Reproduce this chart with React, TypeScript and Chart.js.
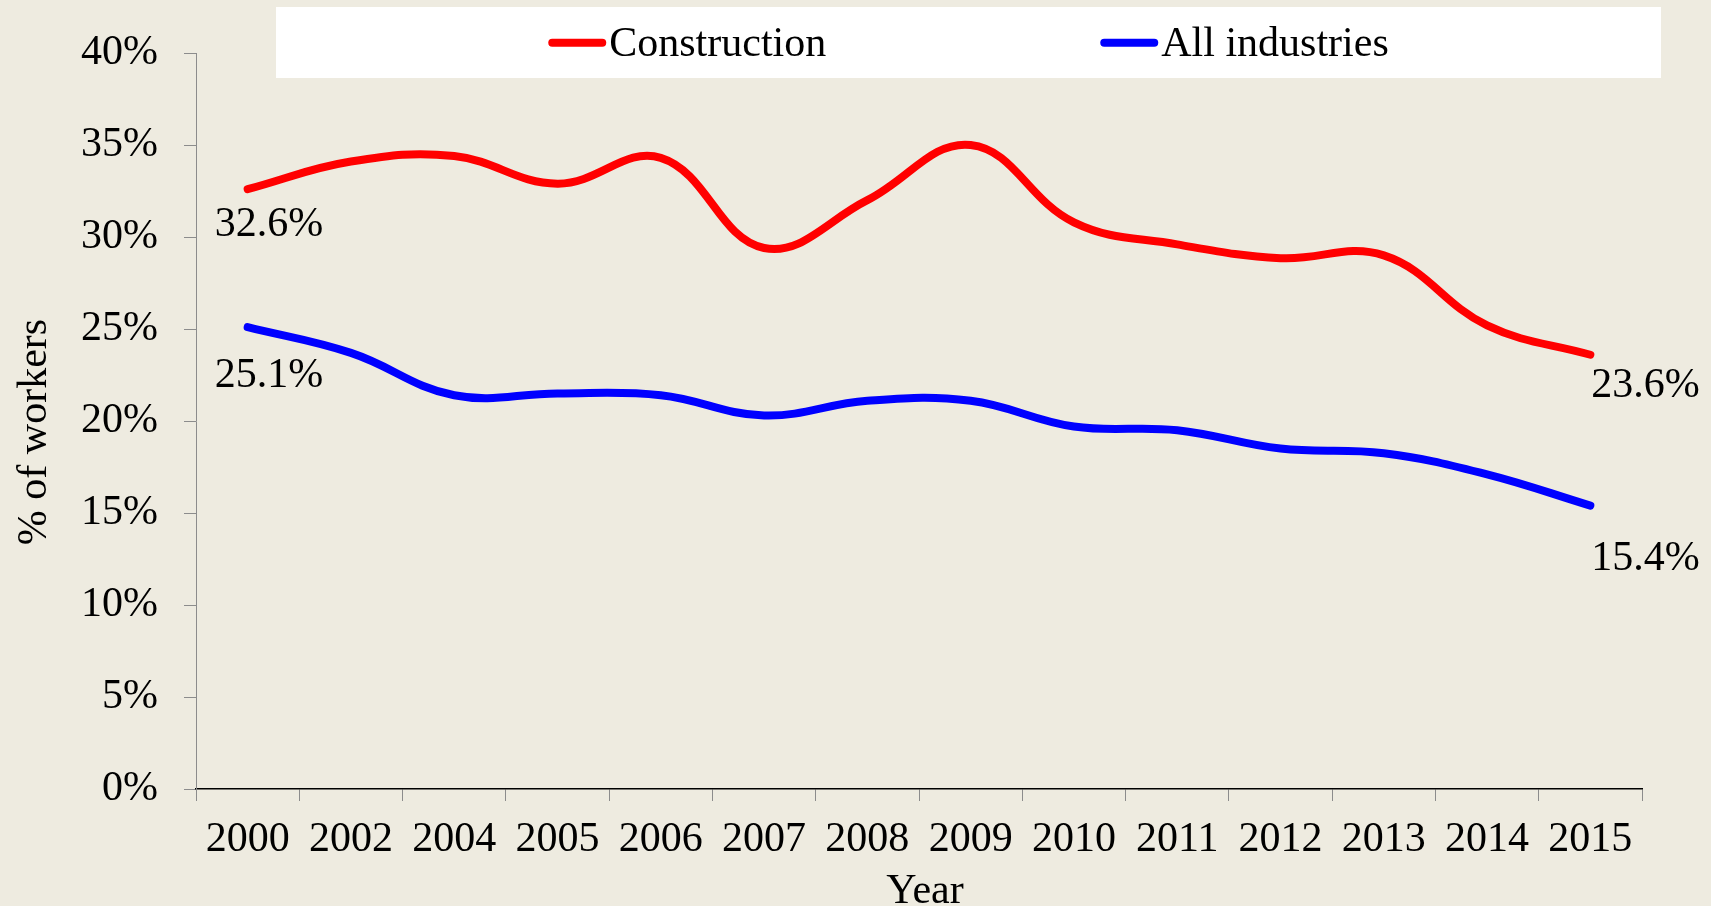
import React, { useEffect, useRef } from "react";
import { Chart, registerables } from "chart.js";

Chart.register(...registerables);

const years = ["2000", "2002", "2004", "2005", "2006", "2007", "2008", "2009", "2010", "2011", "2012", "2013", "2014", "2015"];
const construction = [32.6, 34.1, 34.4, 32.9, 34.3, 29.4, 32.0, 35.0, 30.8, 29.6, 28.85, 29.0, 25.2, 23.6];
const allIndustries = [25.1, 23.7, 21.4, 21.5, 21.4, 20.3, 21.1, 21.1, 19.7, 19.5, 18.5, 18.25, 17.1, 15.4];
const seriesNames = ["Construction", "All industries"];
const yTicks = [0, 5, 10, 15, 20, 25, 30, 35, 40];
const xTitle = "Year";
const yTitle = "% of workers";

const FONT = "'Liberation Serif', 'Times New Roman', serif";
const BG = "#EEEBE0";

const bgPlugin = {
  id: "bg",
  beforeDraw(chart: any) {
    const { ctx, width, height } = chart;
    ctx.save();
    ctx.fillStyle = BG;
    ctx.fillRect(0, 0, width, height);
    ctx.restore();
  },
};

const titlesPlugin = {
  id: "axisTitles",
  afterDraw(chart: any) {
    const { ctx, chartArea } = chart;
    ctx.save();
    ctx.font = `42px ${FONT}`;
    ctx.fillStyle = "#000000";
    ctx.textAlign = "center";
    ctx.textBaseline = "alphabetic";
    ctx.fillText(xTitle, (chartArea.left + chartArea.right) / 2 + 6, 903);
    ctx.translate(46, (chartArea.top + chartArea.bottom) / 2 + 11);
    ctx.rotate(-Math.PI / 2);
    ctx.fillText(yTitle, 0, 0);
    ctx.restore();
  },
};

const legendPlugin = {
  id: "customLegend",
  afterDraw(chart: any) {
    const { ctx } = chart;
    const box = { x: 276, y: 7, w: 1385, h: 71 };
    ctx.save();
    ctx.fillStyle = "#FFFFFF";
    ctx.fillRect(box.x, box.y, box.w, box.h);
    ctx.font = `42px ${FONT}`;
    const lineLen = 58;
    const lineGap = 3;
    const itemGap = 274;
    const items = chart.data.datasets.map((d: any) => ({
      label: d.label,
      color: d.borderColor,
      w: lineLen + lineGap + ctx.measureText(d.label).width,
    }));
    const total = items.reduce((s: number, it: any) => s + it.w, 0) + itemGap * (items.length - 1);
    let x = box.x + box.w / 2 - total / 2;
    const cy = 42.7;
    items.forEach((it: any) => {
      ctx.strokeStyle = it.color;
      ctx.lineWidth = 8;
      ctx.lineCap = "round";
      ctx.beginPath();
      ctx.moveTo(x + 4, cy);
      ctx.lineTo(x + lineLen - 4, cy);
      ctx.stroke();
      ctx.fillStyle = "#000000";
      ctx.textAlign = "left";
      ctx.textBaseline = "alphabetic";
      ctx.fillText(it.label, x + lineLen + lineGap, 56);
      x += it.w + itemGap;
    });
    ctx.restore();
  },
};

// label placement: [datasetIndex, pointIndex, dx, dyBaseline]
const labelSpots = [
  [0, 0, -33, 47],
  [1, 0, -33, 60],
  [0, 13, 1, 42],
  [1, 13, 1, 64],
];

const dataLabelPlugin = {
  id: "endLabels",
  afterDatasetsDraw(chart: any) {
    const { ctx } = chart;
    ctx.save();
    ctx.font = `42px ${FONT}`;
    ctx.fillStyle = "#000000";
    ctx.textAlign = "left";
    ctx.textBaseline = "alphabetic";
    labelSpots.forEach(([di, pi, dx, dy]) => {
      const pt = chart.getDatasetMeta(di).data[pi];
      const v = chart.data.datasets[di].data[pi];
      ctx.fillText(`${Number(v).toFixed(1)}%`, pt.x + dx, pt.y + dy);
    });
    ctx.restore();
  },
};

export default function App() {
  const ref = useRef<HTMLCanvasElement>(null);

  useEffect(() => {
    document.body.style.margin = "0";
    document.body.style.background = BG;
    const canvas = ref.current!;
    const chart = new Chart(canvas, {
      type: "line",
      data: {
        labels: years,
        datasets: [
          {
            label: seriesNames[0],
            data: construction,
            borderColor: "#FF0000",
            backgroundColor: "#FF0000",
            borderWidth: 8,
            pointRadius: 0,
            tension: 0.4,
            borderCapStyle: "round",
            fill: false,
          },
          {
            label: seriesNames[1],
            data: allIndustries,
            borderColor: "#0000FF",
            backgroundColor: "#0000FF",
            borderWidth: 8,
            pointRadius: 0,
            tension: 0.4,
            borderCapStyle: "round",
            fill: false,
          },
        ],
      },
      options: {
        responsive: false,
        animation: false,
        layout: { padding: { left: 0, top: 53, right: 69, bottom: 0 } },
        plugins: {
          legend: { display: false },
          tooltip: { enabled: false },
        },
        scales: {
          x: {
            type: "category",
            offset: true,
            grid: {
              offset: true,
              drawOnChartArea: false,
              drawTicks: true,
              tickLength: 12,
              color: "#8C8C8C",
              lineWidth: 1,
            },
            border: { color: "#000000", width: 1.5 },
            ticks: {
              color: "#000000",
              font: { family: FONT, size: 42 },
              padding: 14,
              maxRotation: 0,
              autoSkip: false,
            },
            title: { display: false },
            afterFit(scale: any) {
              scale.height = 117;
            },
          },
          y: {
            min: 0,
            max: 40,
            afterBuildTicks(scale: any) {
              scale.ticks = yTicks.map((v) => ({ value: v }));
            },
            grid: {
              drawOnChartArea: false,
              drawTicks: true,
              tickLength: 12,
              color: "#8C8C8C",
              lineWidth: 1,
            },
            border: { color: "#8C8C8C", width: 1 },
            ticks: {
              color: "#000000",
              font: { family: FONT, size: 42 },
              padding: 26,
              callback: (v: any) => `${v}%`,
            },
            title: { display: false },
            afterFit(scale: any) {
              scale.width = 196;
            },
          },
        },
      },
      plugins: [bgPlugin, dataLabelPlugin, legendPlugin, titlesPlugin],
    });
    return () => chart.destroy();
  }, []);

  return (
    <div style={{ position: "fixed", left: 0, top: 0, width: 1711, height: 906, background: BG }}>
      <canvas ref={ref} width={1711} height={906} style={{ display: "block" }} />
    </div>
  );
}
